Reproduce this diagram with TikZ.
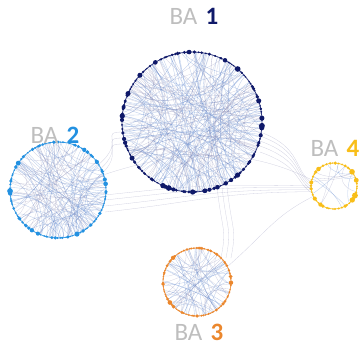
\documentclass[tikz,border=0pt]{standalone}
\usepackage{fontspec}
\setmainfont{Carlito}
\usetikzlibrary{calc}
\definecolor{labgray}{RGB}{190,190,190}
\definecolor{baone}{RGB}{15,25,105}
\definecolor{batwo}{RGB}{35,145,225}
\definecolor{bathree}{RGB}{235,135,45}
\definecolor{bafour}{RGB}{248,190,25}
\definecolor{linkA}{RGB}{95,135,205}
\definecolor{linkB}{RGB}{125,125,170}
\tikzset{
  edgeA/.style={draw=linkA, line width=0.35pt, opacity=0.4},
  edgeB/.style={draw=linkB, line width=0.3pt, opacity=0.35},
  bridge/.style={draw=linkB, line width=0.3pt, opacity=0.35},
  lab/.style={font=\fontsize{25}{25}\selectfont, inner sep=0pt},
}
% chords of one cluster: #1 centre, #2 radius, #3 count
\newcommand{\clusterchords}[3]{%
  \begin{scope}[shift={#1}]
    \foreach \i in {1,...,#3}{
      \pgfmathsetmacro\ca{360*rnd}
      \pgfmathsetmacro\cb{\ca+50+260*rnd}
      \pgfmathsetmacro\ck{0.3+0.6*rnd}
      \pgfmathsetmacro\csel{rnd}
      \ifdim\csel pt<0.55pt
        \draw[edgeA] (\ca:#2) .. controls (\ca:#2*\ck) and (\cb:#2*\ck) .. (\cb:#2);
      \else
        \draw[edgeB] (\ca:#2) .. controls (\ca:#2*\ck) and (\cb:#2*\ck) .. (\cb:#2);
      \fi
    }
  \end{scope}}
% ring of member dots: #1 centre, #2 radius, #3 colour, #4 count, #5 max dot size
\newcommand{\clusterring}[5]{%
  \draw[#3, line width=0.8pt, opacity=0.85] #1 circle (#2);
  \begin{scope}[shift={#1}]
    \foreach \i in {1,...,#4}{
      \pgfmathsetmacro\da{360/#4*\i+2*rand}
      \pgfmathsetmacro\dr{0.7+#5*rnd*rnd}
      \fill[#3] (\da:#2) circle (\dr);
    }
  \end{scope}}
\begin{document}
\begin{tikzpicture}[x=1pt,y=-1pt]
\useasboundingbox (0,0) rectangle (362,345);
\pgfmathsetseed{4242}
\coordinate (c1) at (192,122);
\coordinate (c2) at (58,190);
\coordinate (c3) at (197,282);
\coordinate (c4) at (334,186);

% links between clusters
\foreach \dy in {0,4,9,14,20}{
  \draw[bridge] ($(c1)+(68,10+\dy)$) .. controls ($(c1)+(110,25+\dy)$) and ($(c4)+(-40,-15+\dy/2)$) .. ($(c4)+(-22,-3+\dy/2)$);
}
\foreach \dy in {0,5,11,17}{
  \draw[bridge] ($(c2)+(47,5+\dy)$) .. controls ($(c2)+(140,-5+\dy)$) and ($(c4)+(-120,-2+\dy/2)$) .. ($(c4)+(-23,0+\dy/3)$);
}
\foreach \dy in {0,6,12}{
  \draw[bridge] ($(c2)+(40,-25+\dy)$) .. controls ($(c2)+(70,-50+\dy)$) and ($(c1)+(-95,10+\dy)$) .. ($(c1)+(-68,10+\dy)$);
}
\foreach \dx in {0,5,10}{
  \draw[bridge] ($(c1)+(25+\dx,65)$) .. controls ($(c1)+(30+\dx,110)$) and ($(c3)+(30+\dx,-55)$) .. ($(c3)+(24+\dx,-24)$);
}
\draw[bridge] ($(c2)+(45,-15)$) .. controls ($(c2)+(120,-40)$) and ($(c4)+(-90,-40)$) .. ($(c4)+(-22,-6)$);
\draw[bridge] ($(c3)+(30,-15)$) .. controls ($(c3)+(70,-50)$) and ($(c4)+(-60,30)$) .. ($(c4)+(-20,10)$);

% chords inside clusters
\clusterchords{(c1)}{70}{190}
\clusterchords{(c2)}{48}{110}
\clusterchords{(c3)}{34}{60}
\clusterchords{(c4)}{23}{12}

% member dots
\clusterring{(c1)}{70}{baone}{170}{2.4}
\clusterring{(c2)}{48}{batwo}{120}{2.2}
\clusterring{(c3)}{34}{bathree}{90}{1.8}
\clusterring{(c4)}{23}{bafour}{46}{2.4}

% labels
\node[lab, anchor=base] (l1) at (194,25) {\textcolor{labgray}{BA}\,\,\textcolor{baone}{\bfseries 1}};
\node[lab, anchor=base] (l2) at (55,143) {\textcolor{labgray}{BA}\,\,\textcolor{batwo}{\bfseries 2}};
\node[lab, anchor=base] (l3) at (199,340) {\textcolor{labgray}{BA}\,\,\textcolor{bathree}{\bfseries 3}};
\node[lab, anchor=base] (l4) at (335,157) {\textcolor{labgray}{BA}\,\,\textcolor{bafour}{\bfseries 4}};
\end{tikzpicture}
\end{document}
